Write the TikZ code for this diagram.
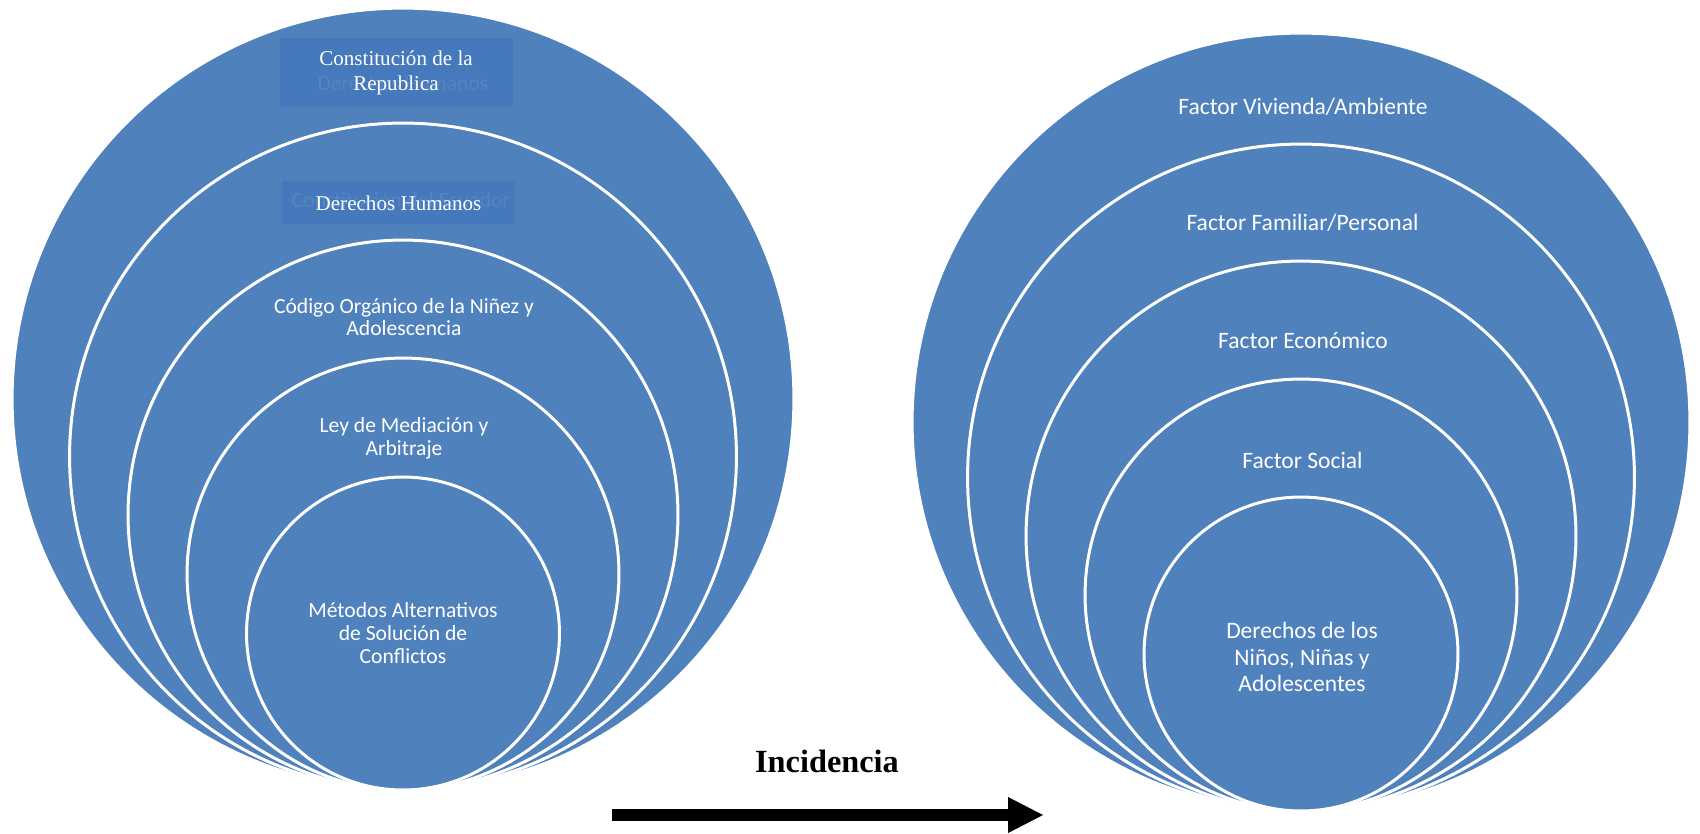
\documentclass[tikz,border=0pt]{standalone}
\usepackage{fontspec}
\setmainfont{Liberation Serif}
\newfontfamily\calibri{Carlito}
\usetikzlibrary{arrows.meta}
\definecolor{ringblue}{HTML}{4F81BD}
\definecolor{boxblue}{HTML}{4679BB}
\definecolor{ghostblue}{HTML}{5585C1}
\begin{document}
\begin{tikzpicture}[x=0.02cm, y=-0.02cm,
  ring/.style={circle, draw=white, line width=1.7pt, fill=ringblue, inner sep=0pt, outer sep=0pt},
  lbl/.style={text=white, align=center, inner sep=0pt, font=\calibri\fontsize{12.3}{13}\selectfont},
  rlbl/.style={text=white, align=center, inner sep=0pt, font=\calibri\fontsize{13.4}{15}\selectfont},
  seriftxt/.style={text=white, align=center, inner sep=0pt, font=\fontsize{12}{14.2}\selectfont},
  boxst/.style={fill=boxblue, inner sep=0pt, outer sep=0pt, minimum width=4.66cm},
  ghosttxt/.style={text=ghostblue, inner sep=0pt, font=\calibri\fontsize{12.3}{13}\selectfont}
]
\useasboundingbox (0,0) rectangle (1700,833);

% left nested circles
\node[ring, minimum size=15.64cm] (L1) at (403,399) {};
\node[ring, minimum size=13.34cm] (L2) at (403,456.5) {};
\node[ring, minimum size=11.0cm] (L3) at (403,515) {};
\node[ring, minimum size=8.64cm] (L4) at (403,574) {};
\node[ring, minimum size=6.26cm] (L5) at (403,633.5) {};

% right nested circles
\node[ring, minimum size=15.56cm] (R1) at (1301,422) {};
\node[ring, minimum size=13.34cm] (R2) at (1301,477.5) {};
\node[ring, minimum size=11.0cm] (R3) at (1301,536) {};
\node[ring, minimum size=8.64cm] (R4) at (1301,595) {};
\node[ring, minimum size=6.28cm] (R5) at (1301,654) {};

% boxes in left figure
\node[boxst, minimum height=1.38cm] (B1) at (396.5,72.5) {};
\node[ghosttxt] (g1) at (403,83) {Derechos Humanos};
\node[seriftxt] (t1) at (396,72.5) {Constitución de la\\Republica};

\node[boxst, minimum height=0.86cm] (B2) at (398.5,202.5) {};
\node[ghosttxt] (g2) at (401,200) {Constitución del Ecuador};
\node[seriftxt] (t2) at (398.5,203) {Derechos Humanos};

% left labels
\node[lbl] (t3) at (404,317) {Código Orgánico de la Niñez y\\Adolescencia};
\node[lbl] (t4) at (404,438) {Ley de Mediación y\\Arbitraje};
\node[lbl] (t5) at (403,633) {Métodos Alternativos\\de Solución de\\Conflictos};

% right labels
\node[rlbl] (r1) at (1303,107) {Factor Vivienda/Ambiente};
\node[rlbl] (r2) at (1302.5,223) {Factor Familiar/Personal};
\node[rlbl] (r3) at (1303,340) {Factor Económico};
\node[rlbl] (r4) at (1302.5,460) {Factor Social};
\node[rlbl] (r5) at (1302,657) {Derechos de los\\Niños, Niñas y\\Adolescentes};

% incidence arrow
\node[anchor=base, inner sep=0pt, font=\bfseries\fontsize{18.4}{22}\selectfont] (inc) at (827,772) {Incidencia};
\coordinate (arrS) at (612,815);
\coordinate (arrE) at (1043,815);
\draw[line width=6.8pt, -{Triangle[length=19.8pt, width=20.4pt, line width=0pt]}] (arrS) -- (arrE);
\end{tikzpicture}
\end{document}
